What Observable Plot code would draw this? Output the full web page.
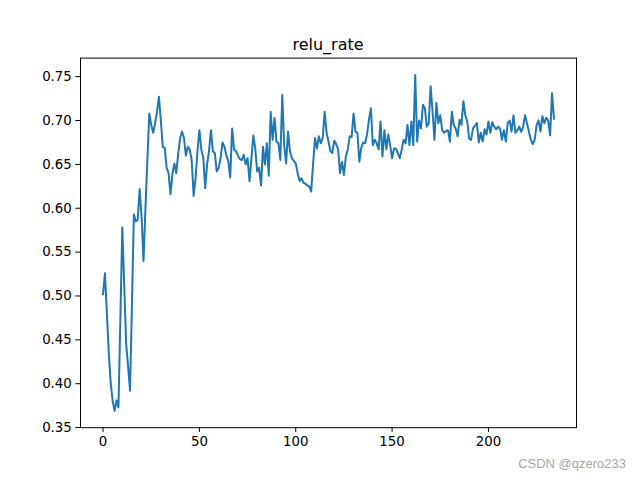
<!DOCTYPE html>
<html><head><meta charset="utf-8">
<script src="https://cdn.jsdelivr.net/npm/d3@7"></script>
<script src="https://cdn.jsdelivr.net/npm/@observablehq/plot@0.6"></script>
<style>body{margin:0;background:#fff}</style>
</head><body><div id="chart"></div>
<script>
const titleText = "relu_rate";
const watermarkText = "CSDN @qzero233";
const xTicks = [0, 50, 100, 150, 200];
const yTicks = [0.35, 0.40, 0.45, 0.50, 0.55, 0.60, 0.65, 0.70, 0.75];
const reluRate = [
  0.502, 0.526, 0.480, 0.434, 0.400, 0.380, 0.369, 0.381, 0.373, 0.475,
  0.578, 0.512, 0.445, 0.420, 0.392, 0.490, 0.593, 0.585, 0.587, 0.622,
  0.590, 0.540, 0.600, 0.655, 0.708, 0.695, 0.686, 0.697, 0.710, 0.727,
  0.700, 0.670, 0.669, 0.646, 0.640, 0.616, 0.639, 0.651, 0.640, 0.662,
  0.680, 0.6875, 0.680, 0.660, 0.670, 0.667, 0.655, 0.614, 0.634, 0.665,
  0.689, 0.667, 0.658, 0.623, 0.650, 0.665, 0.689, 0.665, 0.663, 0.642,
  0.646, 0.657, 0.675, 0.670, 0.660, 0.654, 0.635, 0.691, 0.667, 0.665,
  0.660, 0.656, 0.655, 0.661, 0.650, 0.657, 0.631, 0.657, 0.683, 0.668,
  0.642, 0.646, 0.626, 0.670, 0.650, 0.674, 0.637, 0.710, 0.678, 0.703,
  0.676, 0.674, 0.655, 0.729, 0.672, 0.651, 0.6875, 0.665, 0.657, 0.654,
  0.651, 0.640, 0.631, 0.634, 0.629, 0.628, 0.626, 0.625, 0.619, 0.650,
  0.680, 0.668, 0.682, 0.674, 0.680, 0.710, 0.686, 0.676, 0.665, 0.663,
  0.677, 0.673, 0.667, 0.640, 0.653, 0.638, 0.659, 0.667, 0.682, 0.681,
  0.708, 0.6875, 0.686, 0.653, 0.669, 0.675, 0.674, 0.684, 0.701, 0.714,
  0.672, 0.678, 0.674, 0.667, 0.699, 0.659, 0.689, 0.667, 0.684, 0.672,
  0.657, 0.668, 0.668, 0.663, 0.657, 0.667, 0.678, 0.674, 0.695, 0.672,
  0.699, 0.672, 0.752, 0.676, 0.700, 0.691, 0.718, 0.714, 0.693, 0.697,
  0.739, 0.710, 0.678, 0.720, 0.697, 0.706, 0.689, 0.686, 0.688, 0.689,
  0.676, 0.710, 0.695, 0.691, 0.682, 0.701, 0.695, 0.722, 0.706, 0.699,
  0.679, 0.678, 0.691, 0.694, 0.697, 0.675, 0.686, 0.676, 0.690, 0.684,
  0.699, 0.686, 0.698, 0.693, 0.690, 0.693, 0.691, 0.678, 0.689, 0.676,
  0.697, 0.700, 0.6875, 0.706, 0.686, 0.689, 0.693, 0.687, 0.693, 0.706,
  0.697, 0.6875, 0.678, 0.673, 0.678, 0.695, 0.700, 0.6875, 0.705, 0.697,
  0.703, 0.700, 0.683, 0.731, 0.702
];

const data = reluRate.map((v, i) => ({step: i, rate: v}));
const n = reluRate.length;
const xPad = (n - 1) * 0.05;
const lo = d3.min(reluRate), hi = d3.max(reluRate), yPad = (hi - lo) * 0.05;

const W = 640, H = 480, mL = 80, mR = 64, mT = 57.6, mB = 52.8;
const plot = Plot.plot({
  width: W, height: H,
  marginLeft: mL, marginRight: mR, marginTop: mT, marginBottom: mB,
  style: {fontFamily: "DejaVu Sans", fontSize: "13.33px", color: "black", background: "white", overflow: "visible"},
  x: {domain: [-xPad, n - 1 + xPad]},
  y: {domain: [lo - yPad, hi + yPad]},
  marks: [
    Plot.axisX({ticks: xTicks, tickFormat: d => String(d), tickSize: 4.67, tickPadding: 4, label: null, fontSize: 13.33, stroke: "black", strokeWidth: 1}),
    Plot.axisY({ticks: yTicks, tickFormat: d3.format(".2f"), tickSize: 4.67, tickPadding: 4, label: null, fontSize: 13.33, stroke: "black", strokeWidth: 1}),
    Plot.line(data, {x: "step", y: "rate", stroke: "#1f77b4", strokeWidth: 2, strokeLinejoin: "round", strokeLinecap: "square"}),
    Plot.frame({stroke: "black", strokeWidth: 1})
  ]
});

const svg = d3.select(plot);
svg.append("text")
  .attr("x", (mL + (W - mR)) / 2)
  .attr("y", mT - 8)
  .attr("text-anchor", "middle")
  .attr("font-family", "DejaVu Sans")
  .attr("font-size", 16)
  .attr("fill", "black")
  .text(titleText);
svg.append("text")
  .attr("x", 626)
  .attr("y", 468)
  .attr("text-anchor", "end")
  .attr("font-family", "Liberation Sans")
  .attr("font-size", 13)
  .attr("fill", "#a6a6a6")
  .text(watermarkText);

document.getElementById("chart").appendChild(plot);
</script>
</body></html>
